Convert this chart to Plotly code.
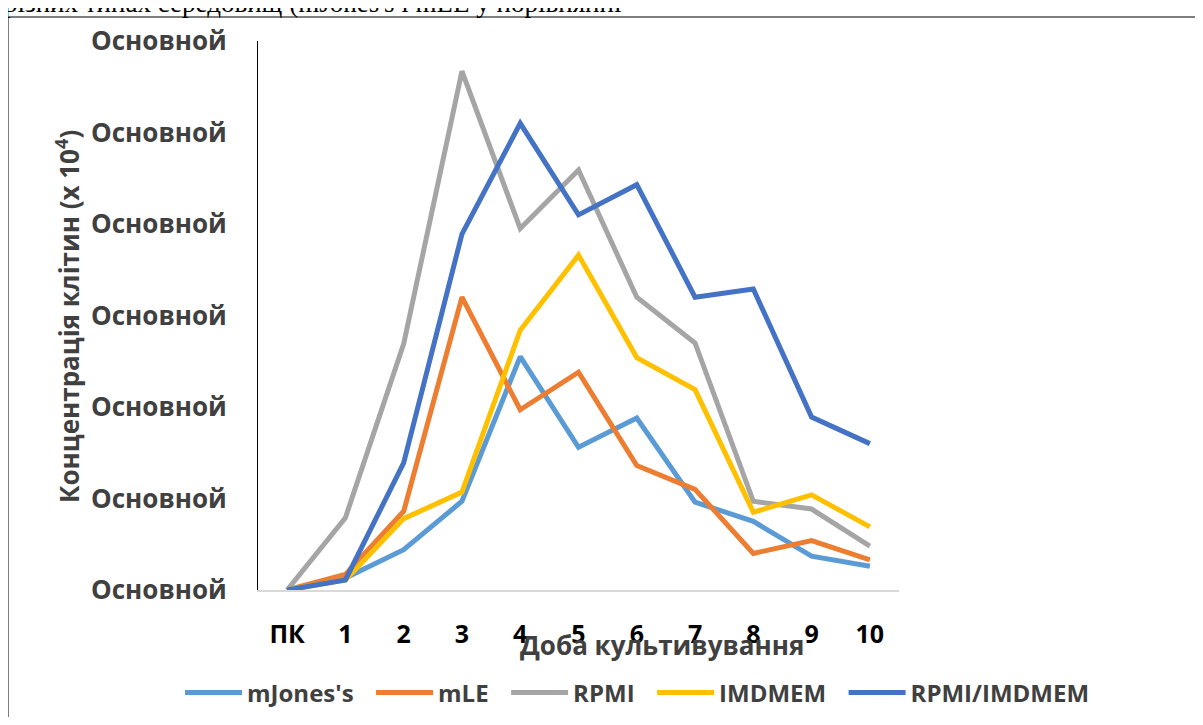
import plotly.graph_objects as go

days = ["ПК", "1", "2", "3", "4", "5", "6", "7", "8", "9", "10"]
mjones = [0.0, 0.13, 0.44, 0.97, 2.55, 1.56, 1.88, 0.96, 0.75, 0.37, 0.26]
mle = [0.0, 0.17, 0.86, 3.20, 1.97, 2.38, 1.36, 1.10, 0.40, 0.54, 0.33]
rpmi = [0.0, 0.79, 2.69, 5.67, 3.95, 4.59, 3.20, 2.70, 0.97, 0.885, 0.48]
imdmem = [0.0, 0.11, 0.78, 1.07, 2.84, 3.66, 2.54, 2.19, 0.85, 1.04, 0.69]
rpmi_imdmem = [0.0, 0.11, 1.39, 3.89, 5.10, 4.10, 4.43, 3.20, 3.29, 1.89, 1.60]
y_ticks = [0, 1, 2, 3, 4, 5, 6]
y_tick_labels = ["Основной"] * 7

series = [
    ("mJones's", mjones, "#5B9BD5"),
    ("mLE", mle, "#ED7D31"),
    ("RPMI", rpmi, "#A5A5A5"),
    ("IMDMEM", imdmem, "#FFC000"),
    ("RPMI/IMDMEM", rpmi_imdmem, "#4472C4"),
]

FONT = "Open Sans"
DG = "#404040"
NB = "\u00a0"

fig = go.Figure()
for i, (name, vals, col) in enumerate(series):
    label = name + (NB * 2 if i < len(series) - 1 else "")
    fig.add_trace(go.Scatter(
        x=days, y=vals, name=label, mode="lines",
        line=dict(color=col, width=5), cliponaxis=False,
    ))

OFF = 8  # browser body margin
W, H = 1203 - 2 * OFF, 725 - 2 * OFF
L, R, T, B = 258 - OFF, 899 - OFF, 41 - OFF, 590 - OFF


def px(x):
    return (x - OFF - L) / (R - L)


def py(y):
    return (B - (y - OFF)) / (B - T)


fig.update_layout(
    width=W, height=H,
    margin=dict(l=L, r=W - R, t=T, b=H - B, autoexpand=False),
    paper_bgcolor="white", plot_bgcolor="white",
    showlegend=True,
    legend=dict(
        orientation="h",
        x=px(1095), xanchor="right",
        y=py(693), yanchor="middle",
        font=dict(family=FONT, size=24, color=DG, weight="bold"),
        itemwidth=57, traceorder="normal",
    ),
    xaxis=dict(
        type="category", range=[-0.5, 10.5],
        showline=True, linecolor="#d9d9d9", linewidth=1.5,
        showgrid=False, zeroline=False, ticks="",
        tickfont=dict(family=FONT, size=25, color="#000000", weight="bold"),
        ticklabelstandoff=21,
    ),
    yaxis=dict(
        range=[0, 6], tickvals=y_ticks, ticktext=y_tick_labels,
        showline=True, linecolor="#000000", linewidth=1,
        showgrid=False, zeroline=False, ticks="",
        tickfont=dict(family=FONT, size=26, color=DG, weight="bold"),
        ticklabelstandoff=25,
    ),
    annotations=[
        dict(text="Концентрація клітин (x 10<sup>4</sup>)", xref="paper", yref="paper",
             x=px(68), y=py(316), xanchor="center", yanchor="middle", textangle=-90,
             showarrow=False, font=dict(family=FONT, size=26, color=DG, weight="bold")),
        dict(text="Доба культивування", xref="paper", yref="paper",
             x=px(662), y=py(645), xanchor="center", yanchor="middle",
             showarrow=False, font=dict(family=FONT, size=26, color=DG, weight="bold")),
        dict(text="різних типах середовищ (mJones's і mLE у порівнянні", xref="paper", yref="paper",
             x=px(2), y=py(20), xanchor="left", yanchor="bottom",
             showarrow=False, font=dict(family="Liberation Serif", size=27, color="#000000")),
    ],
    shapes=[
        dict(type="rect", xref="paper", yref="paper",
             x0=px(8), x1=px(1215), y0=py(17), y1=py(760),
             line=dict(color="#7f7f7f", width=2), fillcolor="rgba(0,0,0,0)", layer="below"),
    ],
)

fig.write_html("out.html")
